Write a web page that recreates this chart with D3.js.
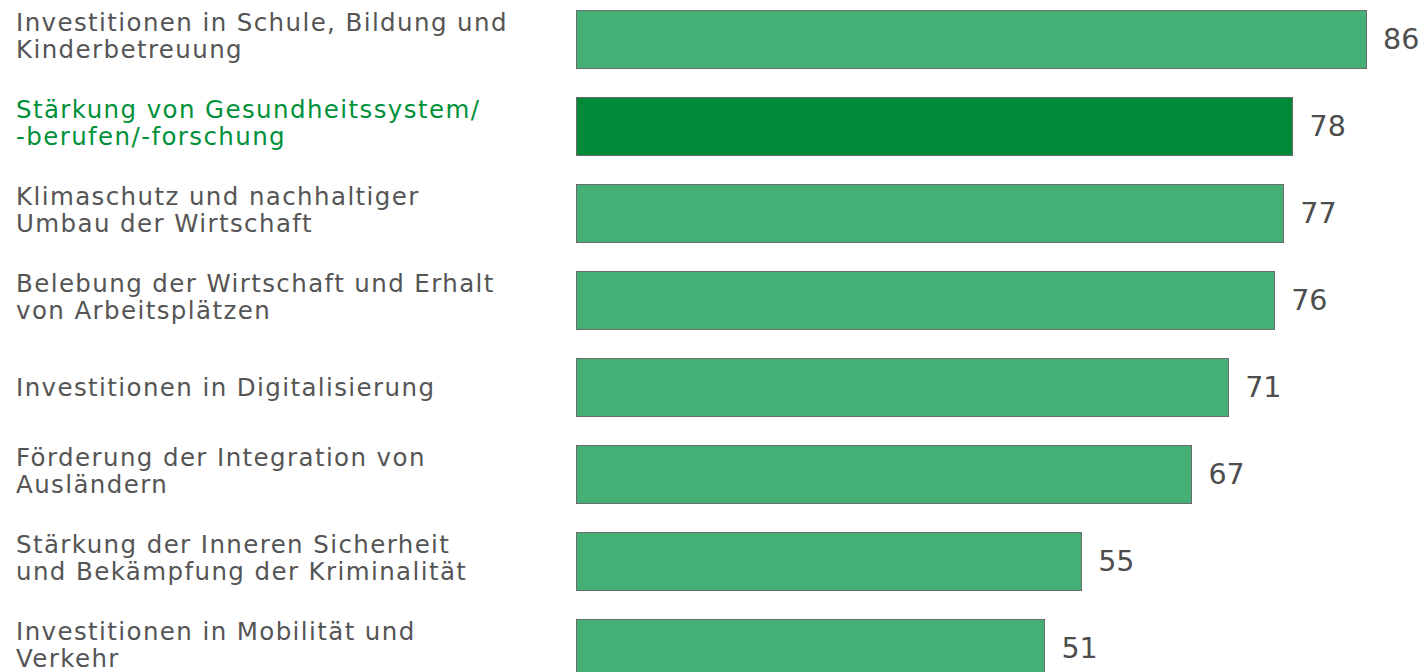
<!DOCTYPE html>
<html>
<head>
<meta charset="utf-8">
<script src="https://cdn.jsdelivr.net/npm/d3@7"></script>
<style>
  html, body { margin: 0; padding: 0; background: #fff; }
  svg { display: block; }
</style>
</head>
<body>
<script>
// Category labels (line breaks marked with "|")
const categories = [
  "Investitionen in Schule, Bildung und|Kinderbetreuung",
  "Stärkung von Gesundheitssystem/|-berufen/-forschung",
  "Klimaschutz und nachhaltiger|Umbau der Wirtschaft",
  "Belebung der Wirtschaft und Erhalt|von Arbeitsplätzen",
  "Investitionen in Digitalisierung",
  "Förderung der Integration von|Ausländern",
  "Stärkung der Inneren Sicherheit|und Bekämpfung der Kriminalität",
  "Investitionen in Mobilität und|Verkehr"
];
const values = [86, 78, 77, 76, 71, 67, 55, 51];
const highlighted = [false, true, false, false, false, false, false, false];

const W = 1426, H = 672;
const data = categories.map((c, i) => ({ cat: c, value: values[i], hi: highlighted[i] }));

const svg = d3.select("body").append("svg")
  .attr("width", W).attr("height", H);

const y = d3.scaleBand()
  .domain(categories)
  .range([-4.5, 691.5])
  .paddingInner(1 / 3)
  .paddingOuter(1 / 6);

const x = d3.scaleLinear()
  .domain([0, 86])
  .range([576, 1366]);

const colLight = "#45b075";
const colDark = "#008a37";

// Bars
svg.selectAll("rect.bar")
  .data(data)
  .join("rect")
  .attr("class", "bar")
  .attr("x", x(0))
  .attr("y", d => y(d.cat))
  .attr("width", d => x(d.value) - x(0))
  .attr("height", y.bandwidth())
  .attr("fill", d => d.hi ? colDark : colLight)
  .attr("stroke", "#6b6b6b")
  .attr("stroke-width", 1)
  .attr("shape-rendering", "crispEdges");

// Value labels
svg.selectAll("text.val")
  .data(data)
  .join("text")
  .attr("class", "val")
  .attr("x", d => x(d.value) + 17)
  .attr("y", d => y(d.cat) + y.bandwidth() / 2)
  .attr("dy", "0.36em")
  .attr("font-family", "'DejaVu Sans', Verdana, sans-serif")
  .attr("font-size", 28.5)
  .attr("fill", "#4d4d4d")
  .text(d => d.value);

// Category labels, one or two lines, centred on the bar
const labels = svg.selectAll("text.cat")
  .data(data)
  .join("text")
  .attr("class", "cat")
  .attr("font-family", "'DejaVu Sans', Verdana, sans-serif")
  .attr("font-size", 24.5)
  .attr("letter-spacing", 1.4)
  .attr("fill", d => d.hi ? "#00913a" : "#555555");

labels.each(function (d) {
  const lines = d.cat.split("|");
  const lineH = 27;
  const mid = y(d.cat) + y.bandwidth() / 2;
  const first = mid + 8.5 - (lines.length - 1) * (lineH / 2 + 3.5);
  d3.select(this).selectAll("tspan")
    .data(lines)
    .join("tspan")
    .attr("x", 16)
    .attr("y", (l, i) => first + i * lineH)
    .text(l => l);
});
</script>
</body>
</html>
